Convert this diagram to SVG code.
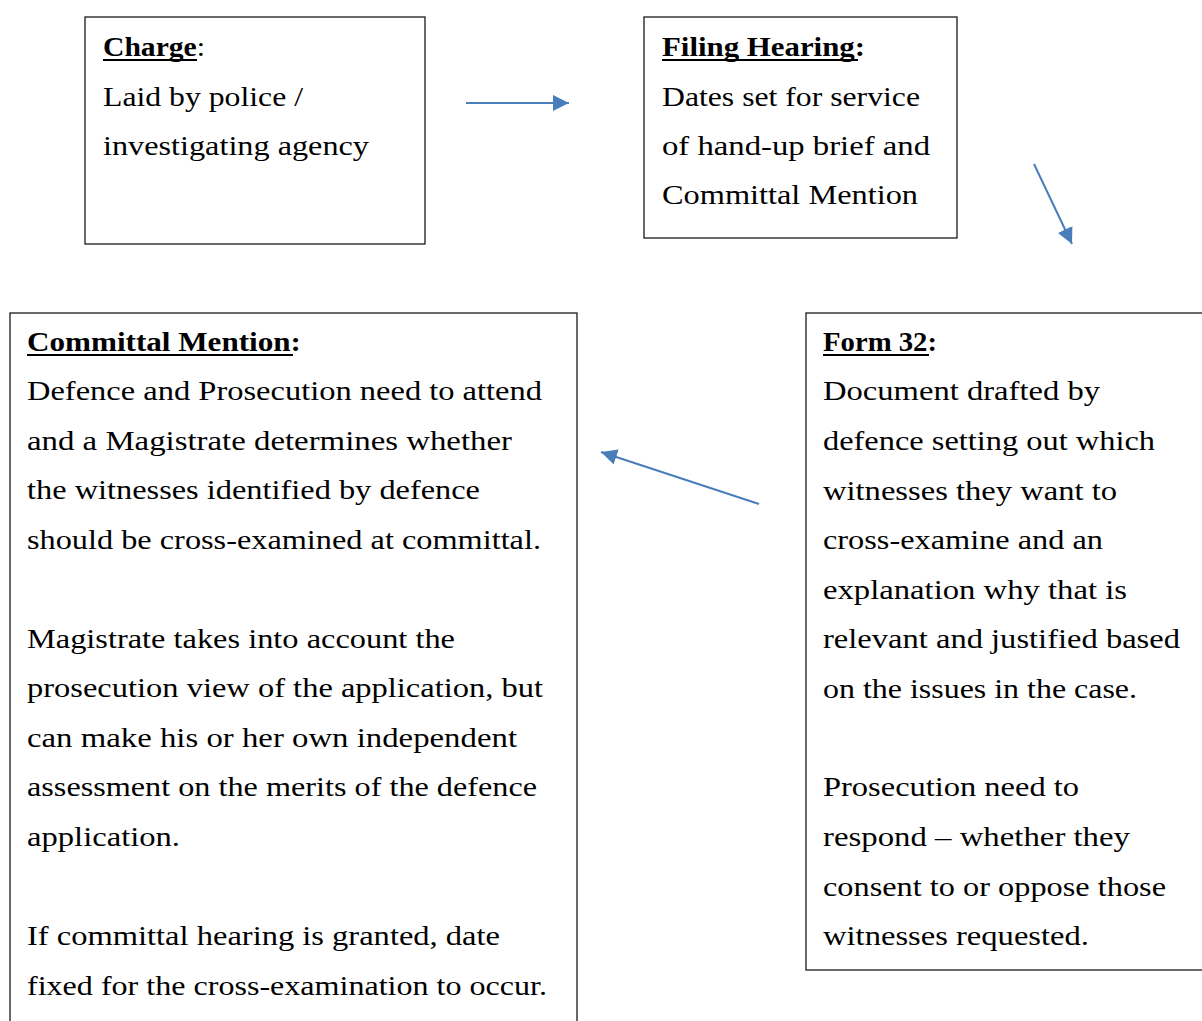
<svg xmlns="http://www.w3.org/2000/svg" width="1202" height="1021" viewBox="0 0 1202 1021">
<style>
.box{fill:#fff;stroke:#1a1a1a;stroke-width:1.3}
text{font-family:"Liberation Serif","Times New Roman",serif;font-size:28px;fill:#000}
.b{font-weight:bold}
.ul{stroke:#000;stroke-width:2}
.conn{stroke:#4a7ebb;stroke-width:2;fill:none;marker-end:url(#ah)}
</style>
<defs>
<marker id="ah" markerUnits="userSpaceOnUse" markerWidth="18" markerHeight="16" refX="16" refY="8" orient="auto">
<path d="M0,0 L16,8 L0,16 Z" fill="#4a7ebb"/>
</marker>
</defs>
<rect width="1202" height="1021" fill="#fff"/>
<g id="connectors">
<line class="conn" x1="466" y1="103" x2="569" y2="103"/>
<line class="conn" x1="1034" y1="164" x2="1072" y2="244"/>
<line class="conn" x1="759" y1="504" x2="601" y2="452"/>
</g>
<g id="charge">
<rect class="box" x="85" y="17" width="340" height="227"/>
<text x="103" y="56" textLength="102" lengthAdjust="spacingAndGlyphs"><tspan class="b">Charge</tspan>:</text>
<line class="ul" x1="103" y1="60" x2="197" y2="60"/>
<text x="103" y="105.5" textLength="200" lengthAdjust="spacingAndGlyphs">Laid by police /</text>
<text x="103" y="155" textLength="266" lengthAdjust="spacingAndGlyphs">investigating agency</text>
</g>
<g id="filing">
<rect class="box" x="644" y="17" width="313" height="221"/>
<text x="662" y="56" textLength="203" lengthAdjust="spacingAndGlyphs" class="b">Filing Hearing:</text>
<line class="ul" x1="662" y1="60" x2="858" y2="60"/>
<text x="662" y="105.5" textLength="258" lengthAdjust="spacingAndGlyphs">Dates set for service</text>
<text x="662" y="155" textLength="268" lengthAdjust="spacingAndGlyphs">of hand-up brief and</text>
<text x="662" y="204" textLength="256" lengthAdjust="spacingAndGlyphs">Committal Mention</text>
</g>
<g id="committal">
<rect class="box" x="10" y="313" width="567" height="760"/>
<text x="27" y="351" textLength="274" lengthAdjust="spacingAndGlyphs" class="b">Committal Mention:</text>
<line class="ul" x1="27" y1="355" x2="293" y2="355"/>
<text x="27" y="400" textLength="515" lengthAdjust="spacingAndGlyphs">Defence and Prosecution need to attend</text>
<text x="27" y="450" textLength="485" lengthAdjust="spacingAndGlyphs">and a Magistrate determines whether</text>
<text x="27" y="499" textLength="453" lengthAdjust="spacingAndGlyphs">the witnesses identified by defence</text>
<text x="27" y="549" textLength="514" lengthAdjust="spacingAndGlyphs">should be cross-examined at committal.</text>
<text x="27" y="648" textLength="428" lengthAdjust="spacingAndGlyphs">Magistrate takes into account the</text>
<text x="27" y="697" textLength="516" lengthAdjust="spacingAndGlyphs">prosecution view of the application, but</text>
<text x="27" y="747" textLength="490" lengthAdjust="spacingAndGlyphs">can make his or her own independent</text>
<text x="27" y="796" textLength="510" lengthAdjust="spacingAndGlyphs">assessment on the merits of the defence</text>
<text x="27" y="846" textLength="153" lengthAdjust="spacingAndGlyphs">application.</text>
<text x="27" y="945" textLength="473" lengthAdjust="spacingAndGlyphs">If committal hearing is granted, date</text>
<text x="27" y="995" textLength="520" lengthAdjust="spacingAndGlyphs">fixed for the cross-examination to occur.</text>
</g>
<g id="form32">
<rect class="box" x="806" y="313" width="410" height="657"/>
<text x="823" y="351" textLength="114" lengthAdjust="spacingAndGlyphs" class="b">Form 32:</text>
<line class="ul" x1="823" y1="355" x2="929" y2="355"/>
<text x="823" y="400" textLength="277" lengthAdjust="spacingAndGlyphs">Document drafted by</text>
<text x="823" y="450" textLength="332" lengthAdjust="spacingAndGlyphs">defence setting out which</text>
<text x="823" y="500" textLength="294" lengthAdjust="spacingAndGlyphs">witnesses they want to</text>
<text x="823" y="549" textLength="280" lengthAdjust="spacingAndGlyphs">cross-examine and an</text>
<text x="823" y="599" textLength="304" lengthAdjust="spacingAndGlyphs">explanation why that is</text>
<text x="823" y="648" textLength="357" lengthAdjust="spacingAndGlyphs">relevant and justified based</text>
<text x="823" y="698" textLength="314" lengthAdjust="spacingAndGlyphs">on the issues in the case.</text>
<text x="823" y="796" textLength="256" lengthAdjust="spacingAndGlyphs">Prosecution need to</text>
<text x="823" y="846" textLength="307" lengthAdjust="spacingAndGlyphs">respond – whether they</text>
<text x="823" y="896" textLength="343" lengthAdjust="spacingAndGlyphs">consent to or oppose those</text>
<text x="823" y="945" textLength="266" lengthAdjust="spacingAndGlyphs">witnesses requested.</text>
</g>
</svg>
